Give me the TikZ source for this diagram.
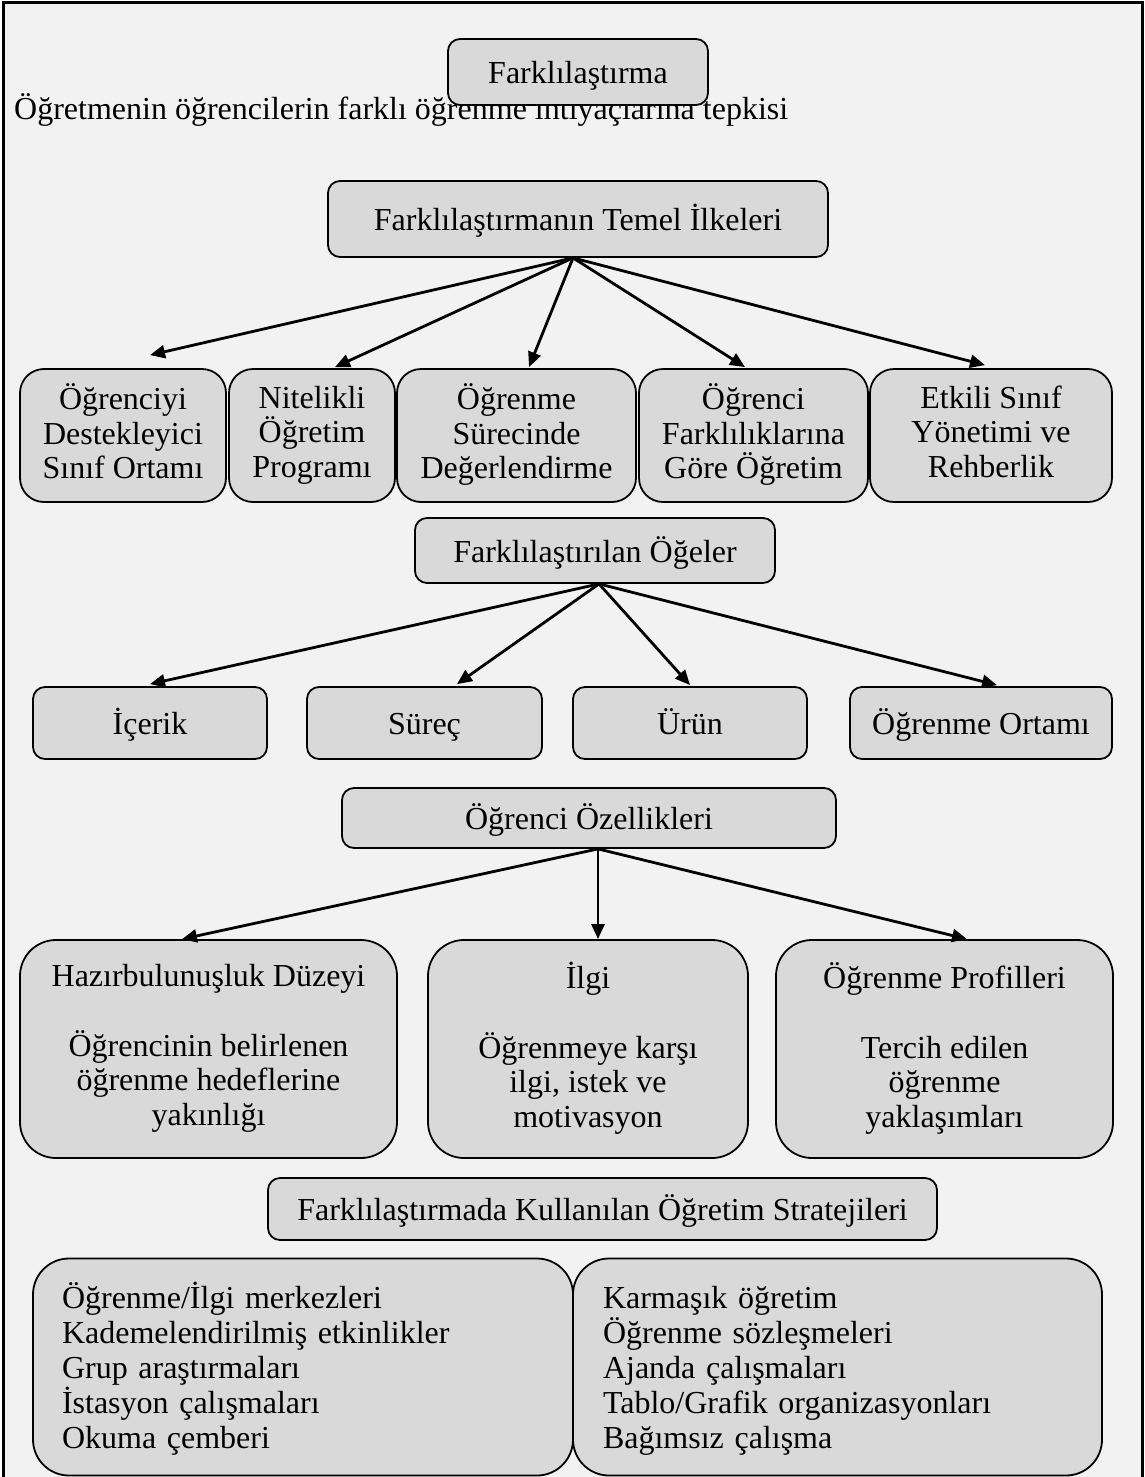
\documentclass[tikz,border=0pt]{standalone}
\usepackage{fontspec}
\setmainfont{Liberation Serif}
\usetikzlibrary{arrows.meta,calc}
\definecolor{zemin}{HTML}{F2F2F2}
\definecolor{kutugri}{HTML}{D9D9D9}
\newcommand{\ustdestek}{\rule{0pt}{31pt}}
\newcommand{\altdestek}{\rule[-8pt]{0pt}{8pt}}

\begin{document}
\begin{tikzpicture}[x=1pt,y=-1pt]
    \tikzstyle{every node}+=[font=\fontsize{32}{34.5}\selectfont]
    \tikzstyle{kutu}=[draw=black, fill=kutugri, line width=1.8pt, align=center, inner sep=0pt, rounded corners=12pt, execute at begin node=\ustdestek, execute at end node=\altdestek]
    \tikzstyle{ok}=[-{Triangle[length=15pt,width=13pt]}, line width=2.8pt]
    \useasboundingbox (0,0) rectangle (1145,1477);
    \fill [zemin] (3,3) rectangle (1142,1477);
    \draw [line width=3pt] (3,1477) -- (3,3) -- (1142,3) -- (1142,1477);
    \node [anchor=base west, inner sep=0pt] (aciklama) at (14,120) {Öğretmenin öğrencilerin farklı öğrenme ihtiyaçlarına tepkisi};
    \node [kutu, minimum width=260pt, minimum height=66pt] (baslik) at (578,72) {Farklılaştırma};
    \node [kutu, minimum width=500pt, minimum height=76pt] (ilke) at (578,219) {Farklılaştırmanın Temel İlkeleri};
    \node [kutu, rounded corners=24pt, minimum width=206pt, minimum height=133pt] (b1) at (123,435.5) {Öğrenciyi\\Destekleyici\\Sınıf Ortamı};
    \node [kutu, rounded corners=24pt, minimum width=166pt, minimum height=133pt] (b2) at (312,435.5) {Nitelikli\\Öğretim\\Programı};
    \node [kutu, rounded corners=24pt, minimum width=239pt, minimum height=133pt] (b3) at (516.5,435.5) {Öğrenme\\Sürecinde\\Değerlendirme};
    \node [kutu, rounded corners=24pt, minimum width=229pt, minimum height=133pt] (b4) at (753.5,435.5) {Öğrenci\\Farklılıklarına\\Göre Öğretim};
    \node [kutu, rounded corners=24pt, minimum width=242pt, minimum height=133pt] (b5) at (991,435.5) {Etkili Sınıf\\Yönetimi ve\\Rehberlik};
    \draw [ok] ($(ilke.south)+(-5,0)$) -- ($(b1.north)+(27,-13)$);
    \draw [ok] ($(ilke.south)+(-5,0)$) -- ($(b2.north)+(23,-1)$);
    \draw [ok] ($(ilke.south)+(-5,0)$) -- ($(b3.north)+(12.5,-1)$);
    \draw [ok] ($(ilke.south)+(-5,0)$) -- ($(b4.north)+(-8.5,-1)$);
    \draw [ok] ($(ilke.south)+(-5,0)$) -- ($(b5.north)+(-6,-3)$);
    \node [kutu, minimum width=360pt, minimum height=65pt] (ogeler) at (595,550.5) {Farklılaştırılan Öğeler};
    \node [kutu, minimum width=234pt, minimum height=72pt] (icerik) at (150,723) {İçerik};
    \node [kutu, minimum width=235pt, minimum height=72pt] (surec) at (424.5,723) {Süreç};
    \node [kutu, minimum width=234pt, minimum height=72pt] (urun) at (690,723) {Ürün};
    \node [kutu, minimum width=262pt, minimum height=72pt] (ortam) at (981,723) {Öğrenme Ortamı};
    \draw [ok] ($(ogeler.south)+(4,0)$) -- ($(icerik.north)+(0,-2)$);
    \draw [ok] ($(ogeler.south)+(4,0)$) -- ($(surec.north)+(32.5,-2)$);
    \draw [ok] ($(ogeler.south)+(4,0)$) -- ($(urun.north)+(0,-1)$);
    \draw [ok] ($(ogeler.south)+(4,0)$) -- ($(ortam.north)+(16,-1)$);
    \node [kutu, minimum width=494pt, minimum height=60pt] (ozellik) at (589,818) {Öğrenci Özellikleri};
    \node [kutu, rounded corners=36pt, minimum width=377pt, minimum height=218pt] (hazir) at (208.5,1049) {Hazırbulunuşluk Düzeyi\\[35pt]Öğrencinin belirlenen\\öğrenme hedeflerine\\yakınlığı};
    \node [kutu, rounded corners=36pt, minimum width=320pt, minimum height=218pt] (ilgi) at (588,1049) {İlgi\\[35pt]Öğrenmeye karşı\\ilgi, istek ve\\motivasyon};
    \node [kutu, rounded corners=36pt, minimum width=337pt, minimum height=218pt] (profil) at (944.5,1049) {Öğrenme Profilleri\\[35pt]Tercih edilen\\öğrenme\\yaklaşımları};
    \draw [ok] ($(ozellik.south)+(9,0)$) -- ($(hazir.north)+(-26.5,0)$);
    \draw [ok] ($(ozellik.south)+(9,0)$) -- ($(ilgi.north)+(10,0)$);
    \draw [ok] ($(ozellik.south)+(9,0)$) -- ($(profil.north)+(22.5,0)$);
    \node [kutu, minimum width=669pt, minimum height=62pt] (strateji) at (602.5,1209) {Farklılaştırmada Kullanılan Öğretim Stratejileri};
    \node [kutu, rounded corners=36pt, minimum width=540pt, minimum height=217pt, text width=482pt, align=left, font=\fontsize{32}{35}\selectfont] (sol) at (303,1367) {Öğrenme/İlgi merkezleri\\Kademelendirilmiş etkinlikler\\Grup araştırmaları\\İstasyon çalışmaları\\Okuma çemberi};
    \node [kutu, rounded corners=36pt, minimum width=529pt, minimum height=217pt, text width=469pt, align=left, font=\fontsize{32}{35}\selectfont] (sag) at (837.5,1367) {Karmaşık öğretim\\Öğrenme sözleşmeleri\\Ajanda çalışmaları\\Tablo/Grafik organizasyonları\\Bağımsız çalışma};
\end{tikzpicture}
\end{document}
